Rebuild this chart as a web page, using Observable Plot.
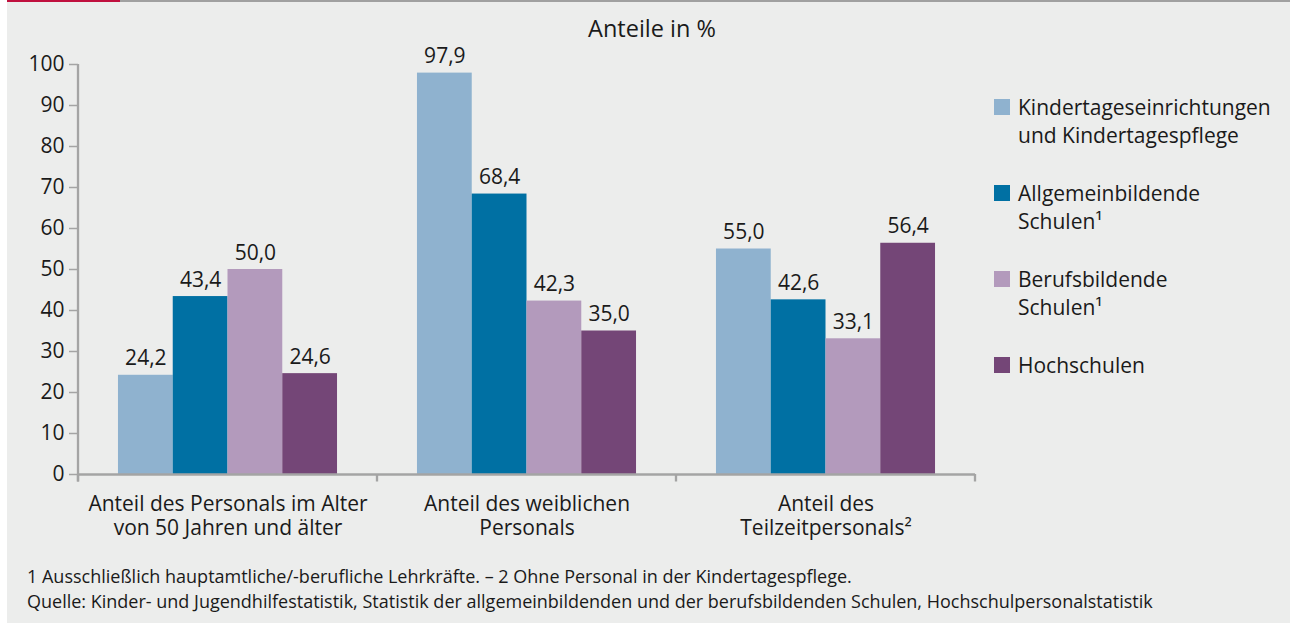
<!DOCTYPE html>
<html lang="de">
<head>
<meta charset="utf-8">
<script src="https://cdn.jsdelivr.net/npm/d3@7"></script>
<script src="https://cdn.jsdelivr.net/npm/@observablehq/plot@0.6"></script>
<style>
  body { margin: 0; background: #fff; font-family: "Open Sans", sans-serif; color: #1a1a1a; }
  #wrap { position: relative; width: 1290px; height: 623px; overflow: hidden;
          background: linear-gradient(to right, #fff 0, #fff 7px, #ecedec 7px); }
  #topbar { position: absolute; left: 7px; top: 0; width: 1283px; height: 2px;
            background: linear-gradient(to right, #c0103e 0, #c0103e 113px, #a0a0a0 113px); }
  #chart { position: absolute; left: 0; top: 0; }
  .abs { position: absolute; line-height: normal; white-space: nowrap; }
  #title { left: 652px; top: 12px; transform: translateX(-50%); font-size: 23.5px; }
  #legend { position: absolute; left: 994px; top: 93px; display: flex; flex-direction: column; gap: 30px; }
  .item { display: flex; align-items: flex-start; font-size: 21px; line-height: 28px; }
  .sw { width: 16px; height: 16px; margin-top: 6px; margin-right: 8px; flex: none; }
  .cap { left: 27px; font-size: 18px; }
</style>
</head>
<body>
<div id="wrap">
  <div id="topbar"></div>
  <div id="chart"></div>
  <div id="title" class="abs">Anteile in %</div>
  <div id="legend"></div>
  <div id="cap1" class="abs cap" style="top:564px">1 Ausschließlich hauptamtliche/-berufliche Lehrkräfte. – 2 Ohne Personal in der Kindertagespflege.</div>
  <div id="cap2" class="abs cap" style="top:589px">Quelle: Kinder- und Jugendhilfestatistik, Statistik der allgemeinbildenden und der berufsbildenden Schulen, Hochschulpersonalstatistik</div>
</div>
<script>
// ---- data ----
const groups = [
  "Anteil des Personals im Alter\nvon 50 Jahren und älter",
  "Anteil des weiblichen\nPersonals",
  "Anteil des\nTeilzeitpersonals²"
];
const series = [
  "Kindertageseinrichtungen\nund Kindertagespflege",
  "Allgemeinbildende\nSchulen¹",
  "Berufsbildende\nSchulen¹",
  "Hochschulen"
];
const colors = ["#8fb2cf", "#0070a3", "#b39abc", "#744677"];
const kita  = [24.2, 97.9, 55.0];
const allg  = [43.4, 68.4, 42.6];
const beruf = [50.0, 42.3, 33.1];
const hoch  = [24.6, 35.0, 56.4];
const yTicks = [0, 10, 20, 30, 40, 50, 60, 70, 80, 90, 100];

const valuesBySeries = [kita, allg, beruf, hoch];
const data = groups.flatMap((g, i) => series.map((s, j) => ({ group: g, series: s, value: valuesBySeries[j][i] })));
const fmt = v => v.toFixed(1).replace(".", ",");
const ink = "#1a1a1a", axisGray = "#a4a4a4";

const chart = Plot.plot({
  width: 1290,
  height: 545,
  marginLeft: 78,
  marginRight: 315,
  marginTop: 64,
  marginBottom: 71,
  style: { background: "transparent", fontFamily: "Open Sans, sans-serif", fontSize: "21px", color: ink, overflow: "visible" },
  fx: { domain: groups, padding: 0, round: false, label: null },
  x: { domain: series, paddingInner: 0, paddingOuter: 0.73, round: false, axis: null },
  y: { domain: [0, 100], label: null },
  color: { domain: series, range: colors },
  marks: [
    Plot.barY(data, { fx: "group", x: "series", y: "value", fill: "series" }),
    Plot.text(data, { fx: "group", x: "series", y: "value", text: d => fmt(d.value),
                      dy: -10, lineAnchor: "bottom", fontSize: 21, fill: ink }),
    Plot.ruleY([0], { stroke: axisGray, strokeWidth: 2.3 }),
    Plot.axisY({ ticks: yTicks, tickSize: 9, tickPadding: 5, stroke: axisGray, strokeWidth: 1.5,
                 fill: ink, fontSize: 21, label: null }),
    Plot.axisFx({ anchor: "bottom", tickSize: 0, tickPadding: 20, lineHeight: 1.12,
                  fill: ink, fontSize: 21, label: null })
  ]
});
document.getElementById("chart").appendChild(chart);

// axis line and group-boundary ticks, positioned from Plot's own scales
const fxS = chart.scale("fx"), yS = chart.scale("y");
const y0 = yS.apply(0);
const starts = fxS.domain.map(g => fxS.apply(g));
const bounds = [...starts, starts[starts.length - 1] + fxS.bandwidth];
const svg = d3.select(chart);
const g = svg.append("g").attr("stroke", axisGray).attr("stroke-width", 2.3);
g.selectAll("line.b").data(bounds).join("line").attr("class", "b")
  .attr("x1", d => d).attr("x2", d => d).attr("y1", y0).attr("y2", y0 + 7.5);
g.append("line").attr("x1", bounds[0]).attr("x2", bounds[0])
  .attr("y1", yS.apply(100)).attr("y2", y0 + 7.5);

// legend
const legend = d3.select("#legend");
series.forEach((s, i) => {
  const item = legend.append("div").attr("class", "item");
  item.append("div").attr("class", "sw").style("background", colors[i]);
  item.append("div").html(s.replace("\n", "<br>"));
});
</script>
</body>
</html>
